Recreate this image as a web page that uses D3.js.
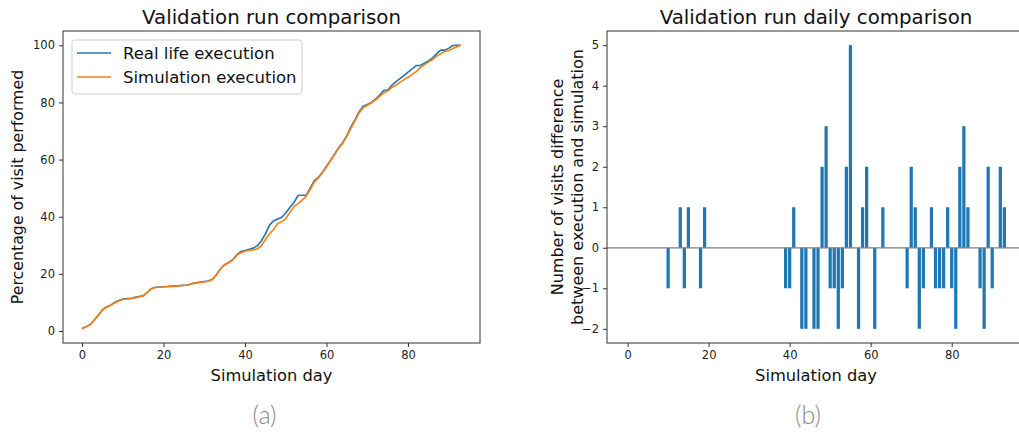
<!DOCTYPE html>
<html>
<head>
<meta charset="utf-8">
<script src="https://cdn.jsdelivr.net/npm/d3@7"></script>
<style>
body { margin: 0; background: #fff; }
svg text { font-family: "DejaVu Sans", sans-serif; }
.tick text { fill: #222; }
</style>
</head>
<body>
<svg id="fig" width="1019" height="434"></svg>
<script>
// cumulative percentage of visits, day 0..93
const days = d3.range(0, 94);
const realLife = [0.8, 1.5, 2.2, 3.8, 5.5, 7.4, 8.4, 9.0, 10.0, 10.7,
    11.2, 11.4, 11.4, 11.8, 12.1, 12.3, 13.5, 14.8, 15.3, 15.4,
    15.5, 15.6, 15.7, 15.8, 15.9, 16.0, 16.1, 16.6, 16.9, 17.1,
    17.3, 17.5, 18.1, 19.8, 21.8, 23.2, 24.0, 25.0, 26.7, 27.8,
    28.2, 28.6, 29.0, 29.8, 31.5, 34.0, 37.0, 38.5, 39.2, 39.8,
    41.3, 43.2, 45.0, 47.4, 47.5, 47.5, 50.0, 52.7, 53.8, 55.6,
    57.7, 59.8, 62.0, 64.2, 66.0, 68.5, 71.5, 74.0, 76.8, 78.7,
    79.3, 80.0, 81.2, 82.5, 84.2, 84.3, 86.0, 87.2, 88.3, 89.4,
    90.6, 91.7, 92.9, 92.9, 93.7, 94.5, 95.6, 97.0, 98.3, 98.3,
    99.0, 99.9, 100, 100];
const simulation = [0.8, 1.5, 2.2, 3.8, 5.5, 7.3, 8.3, 8.9, 9.8, 10.5,
    11.0, 11.2, 11.3, 11.6, 11.9, 12.2, 13.4, 14.7, 15.2, 15.3,
    15.4, 15.5, 15.6, 15.7, 15.8, 15.9, 16.0, 16.5, 16.8, 17.0,
    17.2, 17.4, 18.0, 19.7, 21.7, 23.1, 23.9, 24.9, 26.5, 27.4,
    27.9, 28.3, 28.4, 28.7, 29.8, 32.0, 34.0, 35.5, 37.5, 38.3,
    39.3, 41.5, 43.5, 44.6, 45.8, 47.2, 49.5, 52.2, 53.6, 55.4,
    57.4, 59.6, 61.8, 64.0, 65.8, 68.2, 71.0, 73.6, 76.3, 78.2,
    79.0, 79.8, 80.8, 82.0, 83.3, 84.0, 85.2, 86.0, 87.0, 88.0,
    88.8, 89.8, 90.8, 92.2, 93.2, 94.1, 95.0, 96.2, 97.0, 97.8,
    98.2, 98.9, 99.5, 100];

// daily difference (only non-zero days)
const diffDays = [10, 13, 14, 15, 18, 19, 39, 40, 41, 43, 44, 46, 47, 48, 49,
    50, 51, 52, 53, 54, 55, 57, 58, 59, 61, 63, 69, 70, 71, 72, 73, 75, 76, 77,
    78, 79, 80, 81, 82, 83, 84, 87, 88, 89, 90, 92, 93];
const diffValues = [-1, 1, -1, 1, -1, 1, -1, -1, 1, -2, -2, -2, -2, 2, 3,
    -1, -1, -2, -1, 2, 5, -2, 1, 2, -2, 1, -1, 2, 1, -2, -1, 1, -1, -1,
    -1, 1, -1, -2, 2, 3, 1, -1, -2, 2, -1, 2, 1];

const xTicks = [0, 20, 40, 60, 80];
const yTicksA = [0, 20, 40, 60, 80, 100];
const yTicksB = [-2, -1, 0, 1, 2, 3, 4, 5];

const svg = d3.select('#fig');

function frame(g, w, h) {
    g.append('rect')
        .attr('x', 0).attr('y', 0)
        .attr('width', w).attr('height', h)
        .attr('fill', 'none')
        .attr('stroke', '#333')
        .attr('stroke-width', 1);
}

function styleAxis(ag) {
    ag.select('.domain').remove();
    ag.selectAll('.tick line').attr('stroke', '#333');
    ag.selectAll('.tick text').style('font-size', '11.5px');
}

// ---------- (a) cumulative lines ----------
const A = {left: 63, top: 31, width: 417, height: 312};
const ga = svg.append('g').attr('transform', `translate(${A.left},${A.top})`);

const xa = d3.scaleLinear().domain([-4.65, 97.65]).range([0, A.width]);
const ya = d3.scaleLinear().domain([-4.2, 105]).range([A.height, 0]);

const line = d3.line().x((d, i) => xa(days[i])).y(d => ya(d));

ga.append('path').datum(realLife)
    .attr('d', line)
    .attr('fill', 'none')
    .attr('stroke', '#1f77b4')
    .attr('stroke-width', 1.6);
ga.append('path').datum(simulation)
    .attr('d', line)
    .attr('fill', 'none')
    .attr('stroke', '#ff7f0e')
    .attr('stroke-width', 1.6);

const xaxA = ga.append('g').attr('transform', `translate(0,${A.height})`)
    .call(d3.axisBottom(xa).tickValues(xTicks).tickSize(4).tickPadding(4));
styleAxis(xaxA);
const yaxA = ga.append('g')
    .call(d3.axisLeft(ya).tickValues(yTicksA).tickSize(4).tickPadding(4));
styleAxis(yaxA);
frame(ga, A.width, A.height);

// legend
const lg = ga.append('g').attr('transform', 'translate(9,9)');
lg.append('rect')
    .attr('width', 230).attr('height', 54).attr('rx', 3)
    .attr('fill', '#fff').attr('fill-opacity', 0.8)
    .attr('stroke', '#d0d0d0');
const legendItems = [['Real life execution', '#1f77b4'], ['Simulation execution', '#ff7f0e']];
legendItems.forEach((it, i) => {
    const y = 13 + i * 24;
    lg.append('line')
        .attr('x1', 5).attr('x2', 39).attr('y1', y).attr('y2', y)
        .attr('stroke', it[1]).attr('stroke-width', 1.6);
    lg.append('text')
        .attr('x', 51).attr('y', y).attr('dy', '0.35em')
        .style('font-size', '16.5px').attr('fill', '#111')
        .text(it[0]);
});

svg.append('text')
    .attr('x', A.left + A.width / 2).attr('y', 24)
    .attr('text-anchor', 'middle')
    .style('font-size', '19.8px').attr('fill', '#111')
    .text('Validation run comparison');
svg.append('text')
    .attr('x', A.left + A.width / 2).attr('y', 381)
    .attr('text-anchor', 'middle')
    .style('font-size', '16.3px').attr('fill', '#111')
    .text('Simulation day');
svg.append('text')
    .attr('transform', `translate(23,${A.top + A.height / 2}) rotate(-90)`)
    .attr('text-anchor', 'middle')
    .style('font-size', '15.8px').attr('fill', '#111')
    .text('Percentage of visit performed');

// ---------- (b) daily difference bars ----------
const B = {left: 607, top: 31, width: 418, height: 312};
const gb = svg.append('g').attr('transform', `translate(${B.left},${B.top})`);

const xb = d3.scaleLinear().domain([-5.09, 98.09]).range([0, B.width]);
const yb = d3.scaleLinear().domain([-2.35, 5.35]).range([B.height, 0]);
const barW = xb(0.8) - xb(0);

gb.selectAll('rect.bar')
    .data(diffDays)
    .join('rect')
    .attr('class', 'bar')
    .attr('x', d => xb(d - 0.4))
    .attr('width', barW)
    .attr('y', (d, i) => yb(Math.max(0, diffValues[i])))
    .attr('height', (d, i) => Math.abs(yb(diffValues[i]) - yb(0)))
    .attr('fill', '#1f77b4');

gb.append('line')
    .attr('x1', 0).attr('x2', B.width)
    .attr('y1', yb(0)).attr('y2', yb(0))
    .attr('stroke', '#7f7f7f').attr('stroke-width', 1.2);

const xaxB = gb.append('g').attr('transform', `translate(0,${B.height})`)
    .call(d3.axisBottom(xb).tickValues(xTicks).tickSize(4).tickPadding(4));
styleAxis(xaxB);
const yaxB = gb.append('g')
    .call(d3.axisLeft(yb).tickValues(yTicksB).tickSize(4).tickPadding(4));
styleAxis(yaxB);
frame(gb, B.width, B.height);

svg.append('text')
    .attr('x', B.left + B.width / 2).attr('y', 24)
    .attr('text-anchor', 'middle')
    .style('font-size', '19.8px').attr('fill', '#111')
    .text('Validation run daily comparison');
svg.append('text')
    .attr('x', B.left + B.width / 2).attr('y', 381)
    .attr('text-anchor', 'middle')
    .style('font-size', '16.3px').attr('fill', '#111')
    .text('Simulation day');
const ylb = svg.append('text')
    .attr('transform', `translate(565,${B.top + B.height / 2}) rotate(-90)`)
    .attr('text-anchor', 'middle')
    .style('font-size', '16px').attr('fill', '#111');
ylb.append('tspan').attr('x', 0).attr('dy', '-0.15em').text('Number of visits difference');
ylb.append('tspan').attr('x', 0).attr('dy', '1.25em').text('between execution and simulation');

// panel captions
[['(a)', A.left + A.width / 2 - 7], ['(b)', B.left + 201]].forEach(c => {
    svg.append('text')
        .attr('x', c[1]).attr('y', 424)
        .attr('text-anchor', 'middle')
        .style('font-family', 'Lato, sans-serif')
        .style('font-weight', 300)
        .style('font-size', '25px').attr('fill', '#8a8a8a')
        .text(c[0]);
});
</script>
</body>
</html>
